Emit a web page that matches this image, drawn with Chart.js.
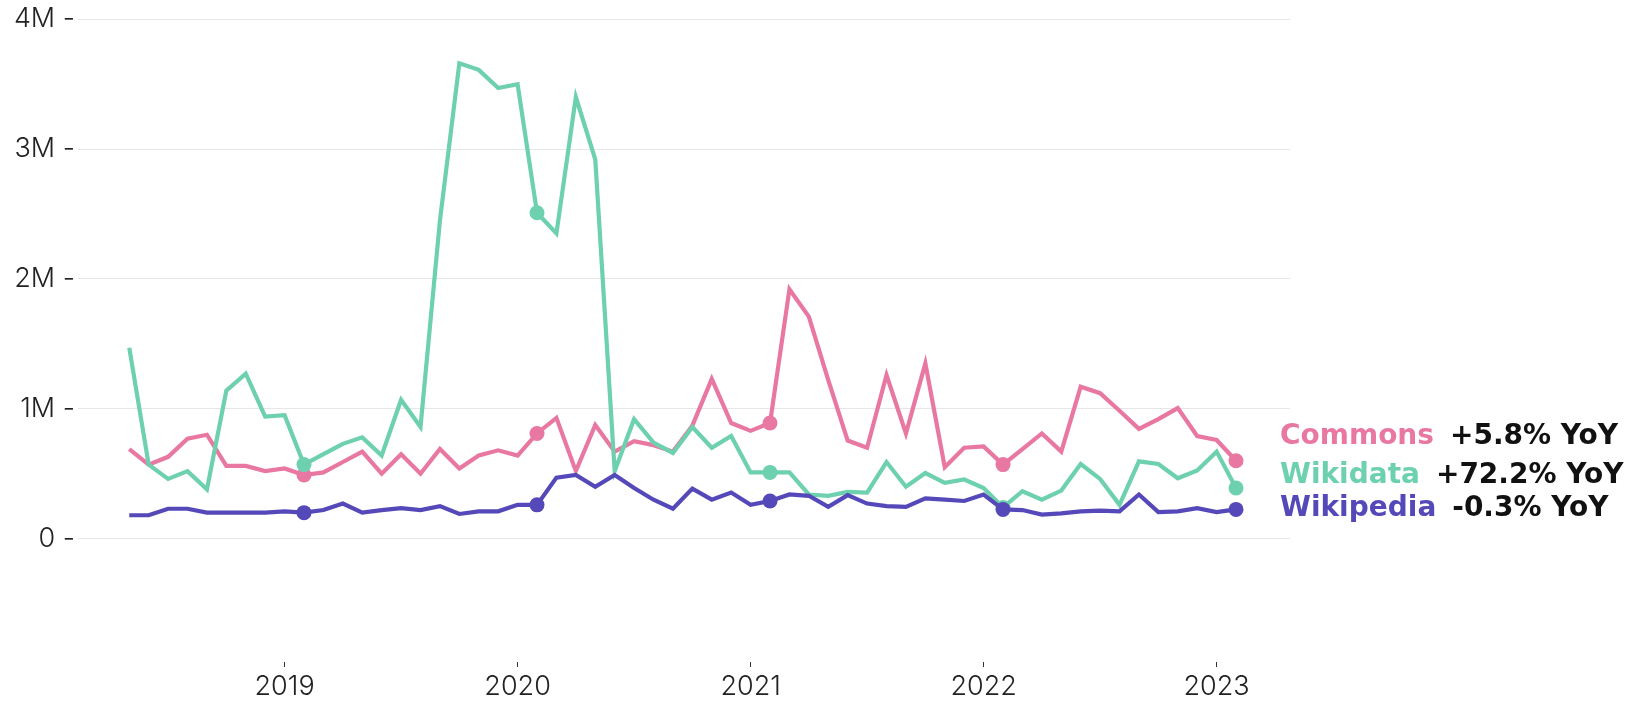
<!DOCTYPE html>
<html>
<head>
<meta charset="utf-8">
<title>Monthly edits</title>
<script src="https://cdn.jsdelivr.net/npm/chart.js@4"></script>
<style>
  html, body { margin: 0; padding: 0; background: #fff; }
  #wrap { width: 1631px; height: 704px; }
</style>
</head>
<body>
<div id="wrap"><canvas id="chart" width="1631" height="704"></canvas></div>
<script>
// months from 2018-05 to 2023-02
const months = [
  '2018-05','2018-06','2018-07','2018-08','2018-09','2018-10','2018-11','2018-12',
  '2019-01','2019-02','2019-03','2019-04','2019-05','2019-06','2019-07','2019-08','2019-09','2019-10','2019-11','2019-12',
  '2020-01','2020-02','2020-03','2020-04','2020-05','2020-06','2020-07','2020-08','2020-09','2020-10','2020-11','2020-12',
  '2021-01','2021-02','2021-03','2021-04','2021-05','2021-06','2021-07','2021-08','2021-09','2021-10','2021-11','2021-12',
  '2022-01','2022-02','2022-03','2022-04','2022-05','2022-06','2022-07','2022-08','2022-09','2022-10','2022-11','2022-12',
  '2023-01','2023-02'
];

// values in millions
const commons = [
  0.69, 0.57, 0.63, 0.77, 0.80, 0.56, 0.56, 0.52,
  0.54, 0.49, 0.51, 0.59, 0.67, 0.50, 0.65, 0.50, 0.69, 0.54, 0.64, 0.68,
  0.64, 0.81, 0.93, 0.52, 0.875, 0.67, 0.75, 0.72, 0.67, 0.87, 1.23, 0.89,
  0.83, 0.89, 1.92, 1.71, 1.22, 0.755, 0.70, 1.26, 0.81, 1.35, 0.55, 0.70,
  0.71, 0.57, 0.69, 0.81, 0.67, 1.17, 1.12, 0.985, 0.845, 0.92, 1.005, 0.79,
  0.76, 0.60
];
const wikidata = [
  1.47, 0.57, 0.46, 0.52, 0.38, 1.14, 1.27, 0.94,
  0.95, 0.57, 0.65, 0.73, 0.78, 0.64, 1.07, 0.86, 2.45, 3.66, 3.61, 3.47,
  3.50, 2.51, 2.35, 3.40, 2.92, 0.52, 0.92, 0.74, 0.66, 0.86, 0.70, 0.79,
  0.51, 0.51, 0.51, 0.34, 0.33, 0.36, 0.355, 0.59, 0.40, 0.505, 0.43, 0.455,
  0.39, 0.24, 0.365, 0.30, 0.37, 0.575, 0.46, 0.26, 0.595, 0.575, 0.465, 0.525,
  0.67, 0.39
];
const wikipedia = [
  0.18, 0.18, 0.23, 0.23, 0.20, 0.20, 0.20, 0.20,
  0.21, 0.20, 0.22, 0.27, 0.20, 0.22, 0.235, 0.22, 0.25, 0.19, 0.21, 0.21,
  0.26, 0.26, 0.47, 0.49, 0.40, 0.49, 0.39, 0.30, 0.23, 0.385, 0.30, 0.355,
  0.26, 0.29, 0.34, 0.33, 0.245, 0.335, 0.27, 0.25, 0.245, 0.31, 0.30, 0.29,
  0.34, 0.225, 0.22, 0.185, 0.195, 0.21, 0.215, 0.21, 0.34, 0.205, 0.21, 0.235,
  0.205, 0.225
];

const yTicks = [0, 1000000, 2000000, 3000000, 4000000];
const yearTicks = ['2019', '2020', '2021', '2022', '2023'];

const seriesNames = ['Commons', 'Wikidata', 'Wikipedia'];
const yoyLabels = ['+5.8% YoY', '+72.2% YoY', '-0.3% YoY'];

const COLORS = {
  Commons: '#e878a2',
  Wikidata: '#6dd0ae',
  Wikipedia: '#5548b9'
};

function toPoints(arr) {
  return arr.map((v, i) => ({ x: i, y: v * 1000000 }));
}
// big dot on february of each year
const dotRadius = months.map(m => m.endsWith('-02') ? 7.5 : 0);

function makeDataset(name, values) {
  return {
    label: name,
    data: toPoints(values),
    borderColor: COLORS[name],
    backgroundColor: COLORS[name],
    borderWidth: 4.2,
    pointRadius: dotRadius,
    pointHoverRadius: dotRadius,
    pointBorderWidth: 0,
    tension: 0,
    fill: false
  };
}

const AXIS_FONT = { family: 'Inter, "Noto Sans", sans-serif', size: 27, weight: '300' };

// names + yoy text at the right side
const endLabels = {
  id: 'endLabels',
  afterDraw(chart) {
    const ctx = chart.ctx;
    const x0 = chart.chartArea.right - 10;
    const rows = [437, 476, 509];
    ctx.save();
    ctx.font = 'bold 28px "DejaVu Sans", sans-serif';
    ctx.textBaseline = 'middle';
    ctx.textAlign = 'left';
    seriesNames.forEach((name, k) => {
      ctx.fillStyle = COLORS[name];
      ctx.fillText(name, x0, rows[k]);
      const w = ctx.measureText(name).width;
      ctx.fillStyle = '#111';
      ctx.fillText(yoyLabels[k], x0 + w + 16, rows[k]);
    });
    ctx.restore();
  }
};

const ctx = document.getElementById('chart').getContext('2d');
new Chart(ctx, {
  type: 'line',
  data: {
    datasets: [
      makeDataset('Wikipedia', wikipedia),
      makeDataset('Wikidata', wikidata),
      makeDataset('Commons', commons)
    ]
  },
  options: {
    responsive: false,
    animation: false,
    layout: { padding: { top: 16, right: 341, bottom: 0, left: 0 } },
    plugins: {
      legend: { display: false },
      tooltip: { enabled: false }
    },
    scales: {
      x: {
        type: 'linear',
        min: -2.64,
        max: 59.78,
        border: { display: false },
        grid: { drawOnChartArea: false, drawTicks: true, tickLength: 5, color: '#333', lineWidth: 1 },
        afterBuildTicks: scale => {
          scale.ticks = yearTicks.map(y => ({ value: months.indexOf(y + '-01') }));
        },
        afterFit: scale => { scale.height = 42; },
        ticks: {
          color: '#222',
          font: AXIS_FONT,
          padding: 4,
          maxRotation: 0,
          autoSkip: false,
          callback: v => months[v] ? months[v].slice(0, 4) : ''
        }
      },
      y: {
        min: -950000,
        max: 4000000,
        border: { display: false },
        grid: { color: '#e6e6e6', lineWidth: 1, drawTicks: false },
        afterBuildTicks: scale => {
          scale.ticks = yTicks.map(v => ({ value: v }));
        },
        afterFit: scale => { scale.width = 78; },
        ticks: {
          color: '#222',
          font: AXIS_FONT,
          padding: 3,
          callback: v => (v === 0 ? '0' : (v / 1000000) + 'M') + ' -'
        }
      }
    }
  },
  plugins: [endLabels]
});
</script>
</body>
</html>
